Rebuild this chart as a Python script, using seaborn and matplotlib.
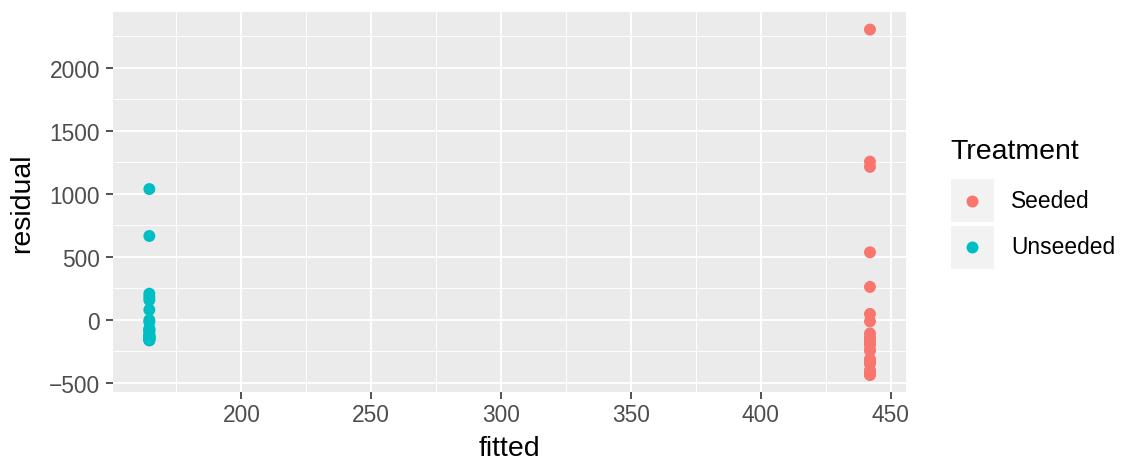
import matplotlib
matplotlib.use("Agg")
import matplotlib.pyplot as plt
from matplotlib.patches import Rectangle
from matplotlib.lines import Line2D
from matplotlib.ticker import MultipleLocator
import numpy as np
import pandas as pd
import seaborn as sns

# Cloud seeding rainfall residuals from a one-way means model
treatments = ["Seeded", "Unseeded"]
fitted_seeded = 441.98
fitted_unseeded = 164.59
resid_seeded = [2303.6, 1255.8, 1214.0, 536.0, 261.4, 47.1, -12.0, -107.9, -139.2,
                -167.3, -167.3, -187.0, -199.5, -241.3, -243.4, -312.4, -323.0,
                -323.7, -326.7, -349.6, -401.4, -409.3, -410.6, -424.5, -434.3, -437.9]
resid_unseeded = [1038.0, 665.5, 207.8, 180.9, 156.6, 79.7, -1.6, -16.8, -69.6,
                  -77.6, -83.4, -96.1, -117.3, -123.5, -128.0, -135.6, -136.0,
                  -138.3, -138.5, -140.2, -142.9, -147.3, -153.1, -159.7, -159.7, -163.6]
x_ticks = [200, 250, 300, 350, 400, 450]
y_ticks = [-500, 0, 500, 1000, 1500, 2000]
palette = {"Seeded": "#F8766D", "Unseeded": "#00BFC4"}

df = pd.DataFrame({
    "fitted": [fitted_seeded] * len(resid_seeded) + [fitted_unseeded] * len(resid_unseeded),
    "residual": resid_seeded + resid_unseeded,
    "Treatment": ["Seeded"] * len(resid_seeded) + ["Unseeded"] * len(resid_unseeded),
})

plt.rcParams["font.family"] = ["Liberation Sans", "DejaVu Sans"]
TICK_FS = 16.4
TITLE_FS = 20.5

W, H = 1124, 460
L, R, T, B = 113.3, 906.0, 13.3, 393.3
fig = plt.figure(figsize=(W / 100, H / 100), dpi=100)
ax = fig.add_axes([L / W, 1 - B / H, (R - L) / W, (B - T) / H])
ax.set_facecolor("#EBEBEB")
for s in ax.spines.values():
    s.set_visible(False)

sns.scatterplot(data=df, x="fitted", y="residual", hue="Treatment", palette=palette,
                s=74, linewidth=0, legend=False, ax=ax, zorder=3)

# ggplot-like expansion of 5%
xmin, xmax = df["fitted"].min(), df["fitted"].max()
ymin, ymax = df["residual"].min(), df["residual"].max()
dx, dy = (xmax - xmin) * 0.05, (ymax - ymin) * 0.05
ax.set_xlim(xmin - dx, xmax + dx)
ax.set_ylim(ymin - dy, ymax + dy)

ax.set_xticks(x_ticks)
ax.set_yticks(y_ticks)
ax.xaxis.set_minor_locator(MultipleLocator(25))
ax.yaxis.set_minor_locator(MultipleLocator(250))
ax.grid(True, which="major", color="white", linewidth=1.3, zorder=0)
ax.grid(True, which="minor", color="white", linewidth=0.65, zorder=0)
ax.set_axisbelow(True)
ax.tick_params(which="major", length=5, width=1.2, color="#333333",
               labelsize=TICK_FS, labelcolor="#4D4D4D")
ax.tick_params(axis="y", which="major", pad=4.5)
ax.tick_params(axis="x", which="major", pad=3.0)
ax.tick_params(which="minor", length=0)

ax.set_xlabel("fitted", fontsize=TITLE_FS, color="black", va="baseline")
ax.set_ylabel("residual", fontsize=TITLE_FS, color="black", va="center")
ax.xaxis.set_label_coords(0.5, (B - 456) / (B - T))
ax.yaxis.set_label_coords((22.5 - L) / (R - L), 0.5)

# Legend drawn in figure pixel coordinates
def fx(px):
    return px / W

def fy(py):
    return 1 - py / H

fig.text(fx(950), fy(152), "Treatment", fontsize=TITLE_FS, va="center", ha="left")
key_centers = [201.5, 248.0]
for t, cy in zip(treatments, key_centers):
    fig.add_artist(Rectangle((fx(951), fy(cy + 21.5)), 43 / W, 43 / H,
                             facecolor="#F2F2F2", edgecolor="none",
                             transform=fig.transFigure))
    fig.add_artist(Line2D([fx(972.5)], [fy(cy)], marker="o", markersize=8.6,
                          color=palette[t], markeredgewidth=0, linestyle="none",
                          transform=fig.transFigure))
    fig.text(fx(1011), fy(cy), t, fontsize=TICK_FS, va="center", ha="left", color="black")

fig.savefig("out.png", dpi=100)
